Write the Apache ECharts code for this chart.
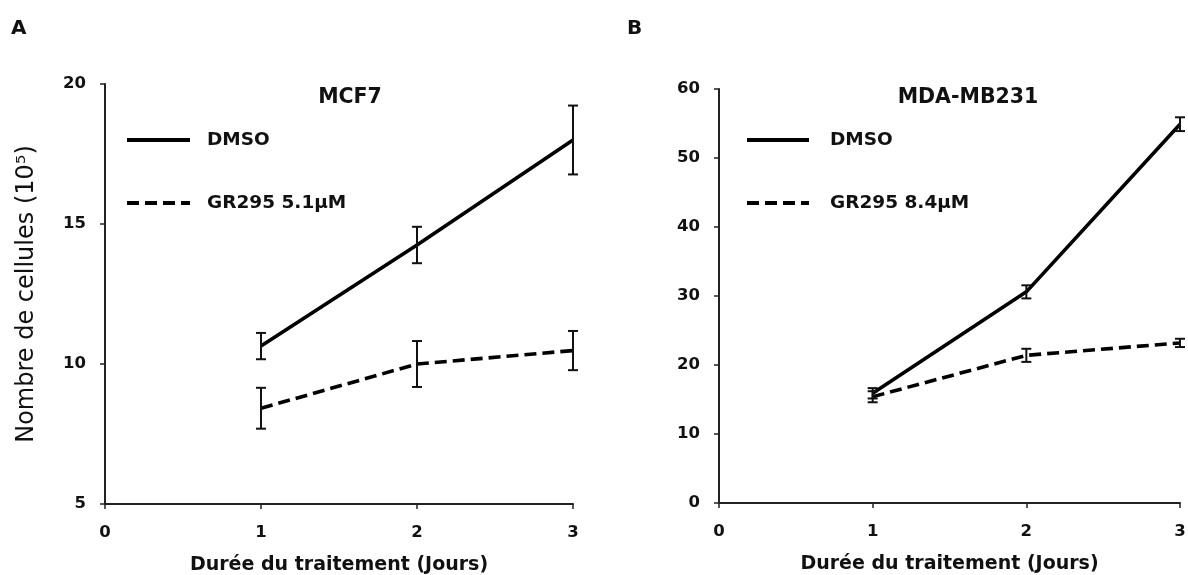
<!DOCTYPE html>
<html>
<head>
<meta charset="utf-8">
<script src="https://cdn.jsdelivr.net/npm/echarts@6/dist/echarts.min.js"></script>
<style>
html,body{margin:0;padding:0;background:#fff;}
#c{width:1188px;height:575px;}
</style>
</head>
<body>
<div id="c"></div>
<script>
// ---- data ----
const days = [1, 2, 3];
const xTicks = [0, 1, 2, 3];

const mcf7Dmso = [10.64, 14.25, 18.0];
const mcf7DmsoErr = [0.47, 0.65, 1.23];
const mcf7Gr = [8.42, 10.0, 10.48];
const mcf7GrErr = [0.73, 0.82, 0.70];

const mdaDmso = [15.9, 30.6, 54.9];
const mdaDmsoErr = [0.75, 0.95, 1.0];
const mdaGr = [15.4, 21.4, 23.2];
const mdaGrErr = [0.8, 0.95, 0.6];

const panelTitles = ['MCF7', 'MDA-MB231'];
const panelLetters = ['A', 'B'];
const legendDmso = 'DMSO';
const legendGrA = 'GR295 5.1µM';
const legendGrB = 'GR295 8.4µM';
const xName = 'Durée du traitement (Jours)';
const yName = 'Nombre de cellules (10⁵)';

// ---- helpers ----
const FONT = '"DejaVu Sans", Verdana, sans-serif';
const INK = '#111';
function pts(vals){ return days.map((d,i)=>[d, vals[i]]); }
function errPts(vals, errs){ return days.map((d,i)=>[d, vals[i]-errs[i], vals[i]+errs[i]]); }

function errSeries(name, idx, vals, errs){
  return {
    type:'custom', name: name + ' err', xAxisIndex: idx, yAxisIndex: idx,
    data: errPts(vals, errs), silent:true, z:5,
    renderItem: function(params, api){
      const x = api.value(0);
      const lo = api.coord([x, api.value(1)]);
      const hi = api.coord([x, api.value(2)]);
      const w = 5;
      const st = {stroke:INK, lineWidth:2};
      return {type:'group', children:[
        {type:'line', shape:{x1:lo[0], y1:lo[1], x2:hi[0], y2:hi[1]}, style:st},
        {type:'line', shape:{x1:lo[0]-w, y1:lo[1], x2:lo[0]+w, y2:lo[1]}, style:st},
        {type:'line', shape:{x1:hi[0]-w, y1:hi[1], x2:hi[0]+w, y2:hi[1]}, style:st}
      ]};
    }
  };
}
function lineSeries(name, idx, vals, dashed){
  return {
    type:'line', name:name, xAxisIndex: idx, yAxisIndex: idx,
    data: pts(vals), symbol:'none', z:4,
    lineStyle:{color:'#000', width:3.6, type: dashed ? [12,6] : 'solid'},
    itemStyle:{color:'#000'}
  };
}

function xAxis(idx){
  return {
    type:'value', gridIndex: idx, min:0, max:3, interval:1,
    name: xName, nameLocation:'middle', nameGap:52,
    nameTextStyle:{fontFamily:FONT, fontWeight:'bold', fontSize:19, color:INK},
    axisLine:{show:true, onZero:false, lineStyle:{color:'#222', width:2}},
    axisTick:{show:true, length:5, lineStyle:{color:'#222', width:1.5}},
    axisLabel:{fontFamily:FONT, fontWeight:'bold', fontSize:16.5, color:INK, margin:20,
      formatter: v => xTicks.indexOf(v) >= 0 ? String(v) : ''},
    splitLine:{show:false}
  };
}
function yAxis(idx, min, max, interval, withName){
  const a = {
    type:'value', gridIndex: idx, min:min, max:max, interval:interval,
    axisLine:{show:true, lineStyle:{color:'#222', width:2}},
    axisTick:{show:true, length:5, lineStyle:{color:'#222', width:1.5}},
    axisLabel:{fontFamily:FONT, fontWeight:'bold', fontSize:16.5, color:INK, margin:19},
    splitLine:{show:false}
  };
  if (withName){
    a.name = yName; a.nameLocation = 'middle'; a.nameGap = 66; a.nameRotate = 90;
    a.nameTextStyle = {fontFamily:FONT, fontSize:24, color:INK};
  }
  return a;
}
function legend(names, left, itemWidth, pad){
  return {
    data:names, orient:'vertical', left:left, top:125, itemWidth:itemWidth, itemHeight:20, itemGap:43,
    selectedMode:false, itemStyle:{opacity:0}, lineStyle:{width:4},
    textStyle:{fontFamily:FONT, fontWeight:'bold', fontSize:18.5, lineHeight:20, color:INK, padding:[0,0,0,pad]}
  };
}

const chart = echarts.init(document.getElementById('c'), null, {renderer:'canvas'});
const option = {
  backgroundColor:'#fff',
  animation:false,
  title:[
    {text:panelLetters[0], left:6, top:14, textStyle:{fontFamily:FONT, fontWeight:'bold', fontSize:20, color:INK}},
    {text:panelLetters[1], left:622, top:14, textStyle:{fontFamily:FONT, fontWeight:'bold', fontSize:20, color:INK}},
    {text:panelTitles[0], left:345, top:82, textAlign:'center', textStyle:{fontFamily:FONT, fontWeight:'bold', fontSize:20.5, color:INK}},
    {text:panelTitles[1], left:963, top:82, textAlign:'center', textStyle:{fontFamily:FONT, fontWeight:'bold', fontSize:20.5, color:INK}}
  ],
  legend:[
    legend([legendDmso, legendGrA], 120, 63, 12),
    legend([legendDmso, legendGrB], 740, 62, 16)
  ],
  grid:[
    {left:105, right:615, top:84, bottom:71, outerBoundsMode:'none', containLabel:false},
    {left:719, right:8, top:89, bottom:72, outerBoundsMode:'none', containLabel:false}
  ],
  xAxis:[xAxis(0), xAxis(1)],
  yAxis:[yAxis(0, 5, 20, 5, true), yAxis(1, 0, 60, 10, false)],
  series:[
    lineSeries(legendDmso, 0, mcf7Dmso, false),
    lineSeries(legendGrA, 0, mcf7Gr, true),
    errSeries(legendDmso, 0, mcf7Dmso, mcf7DmsoErr),
    errSeries(legendGrA, 0, mcf7Gr, mcf7GrErr),
    lineSeries(legendDmso, 1, mdaDmso, false),
    lineSeries(legendGrB, 1, mdaGr, true),
    errSeries(legendDmso, 1, mdaDmso, mdaDmsoErr),
    errSeries(legendGrB, 1, mdaGr, mdaGrErr)
  ]
};
chart.setOption(option);
</script>
</body>
</html>
